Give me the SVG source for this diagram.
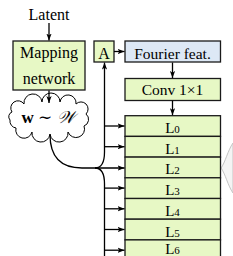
<svg xmlns="http://www.w3.org/2000/svg" width="233" height="256" viewBox="0 0 233 256">
<style>
.t{font-family:"Liberation Serif","Times New Roman",serif;fill:#000;text-anchor:middle}
.g{fill:#e7f8c5;stroke:#1a1a1a;stroke-width:1.3}
.b{fill:#dde8f5;stroke:#1a1a1a;stroke-width:1.3}
.c{fill:none;stroke:#000;stroke-width:1.3}
</style>
<defs>
<marker id="ah" viewBox="0 0 8 6" refX="8" refY="3" markerWidth="7" markerHeight="5.5" markerUnits="userSpaceOnUse" orient="auto">
<path d="M0,0 L8,3 L0,6 L2,3 z" fill="#000"/>
</marker>
</defs>
<rect width="233" height="256" fill="#fff"/>
<g id="brace">
<path d="M233,143 C228,150 225,163 221,168 C225,173 228,186 233,193 Z" fill="#f4f4f4" stroke="#c4c4c4" stroke-width="1"/>
</g>
<g id="latent"><text class="t" x="49" y="20" font-size="16">Latent</text></g>
<g id="mapping">
<rect class="g" x="13" y="41" width="72" height="49"/>
<text class="t" x="49" y="58" font-size="16">Mapping</text>
<text class="t" x="49" y="84" font-size="16">network</text>
</g>
<g id="cloud">
<path d="M12,112 A7,7 0 0 1 24,104 A9,9 0 0 1 42,102 A9,9 0 0 1 60,102 A8,8 0 0 1 76,104 A7,7 0 0 1 86,114 A7,7 0 0 1 84,126 A8,8 0 0 1 68,132 A9,9 0 0 1 50,134 A9,9 0 0 1 32,132 A8,8 0 0 1 16,128 A7,7 0 0 1 10,120 A5,5 0 0 1 12,112 Z" fill="#fff" stroke="#000" stroke-width="1"/>
<text x="48" y="123" font-size="17" font-family="'Liberation Serif','DejaVu Serif',serif" text-anchor="middle"><tspan font-weight="bold">w</tspan> ∼ <tspan font-style="italic">𝒲</tspan></text>
</g>
<g id="A">
<rect class="g" x="94" y="41" width="20" height="21"/>
<text class="t" x="104" y="59" font-size="16">A</text>
</g>
<g id="fourier">
<rect class="b" x="125" y="41" width="95.5" height="21"/>
<text class="t" x="172.5" y="59" font-size="15.5">Fourier feat.</text>
</g>
<g id="conv">
<rect class="g" x="125" y="78.5" width="95.5" height="22"/>
<text class="t" x="172.5" y="95" font-size="15.5">Conv 1×1</text>
</g>
<g id="layers">
<rect class="g" x="125" y="115.7" width="95.5" height="20.7"/>
<rect class="g" x="125" y="136.4" width="95.5" height="20.7"/>
<rect class="g" x="125" y="157.1" width="95.5" height="20.7"/>
<rect class="g" x="125" y="177.8" width="95.5" height="20.7"/>
<rect class="g" x="125" y="198.5" width="95.5" height="20.7"/>
<rect class="g" x="125" y="219.2" width="95.5" height="20.7"/>
<rect class="g" x="125" y="239.9" width="95.5" height="20.7"/>
<text class="t" x="172.5" y="133" font-size="15">L<tspan font-size="11">0</tspan></text>
<text class="t" x="172.5" y="153.7" font-size="15">L<tspan font-size="11">1</tspan></text>
<text class="t" x="172.5" y="174.4" font-size="15">L<tspan font-size="11">2</tspan></text>
<text class="t" x="172.5" y="195.1" font-size="15">L<tspan font-size="11">3</tspan></text>
<text class="t" x="172.5" y="215.8" font-size="15">L<tspan font-size="11">4</tspan></text>
<text class="t" x="172.5" y="236.5" font-size="15">L<tspan font-size="11">5</tspan></text>
<text class="t" x="172.5" y="253.5" font-size="15">L<tspan font-size="11">6</tspan></text>
</g>
<g id="connectors">
<path class="c" d="M49,23 L49,40.5" marker-end="url(#ah)"/>
<path class="c" d="M49,90.5 L49,103" marker-end="url(#ah)"/>
<path class="c" d="M114,51.5 L124.5,51.5" marker-end="url(#ah)"/>
<path class="c" d="M172.5,62.5 L172.5,78" marker-end="url(#ah)"/>
<path class="c" d="M172.5,100.5 L172.5,115.2" marker-end="url(#ah)"/>
<path class="c" d="M50,134.5 Q50,168 82,168 L124.5,168" marker-end="url(#ah)"/>
<path class="c" d="M95,168 Q104.5,168 104.5,152 L104.5,62.5" marker-end="url(#ah)"/>
<path class="c" d="M95,168 Q104.5,168 104.5,184 L104.5,256"/>
<path class="c" d="M104.5,126 L124.5,126" marker-end="url(#ah)"/>
<path class="c" d="M104.5,146.7 L124.5,146.7" marker-end="url(#ah)"/>
<path class="c" d="M104.5,188.1 L124.5,188.1" marker-end="url(#ah)"/>
<path class="c" d="M104.5,208.8 L124.5,208.8" marker-end="url(#ah)"/>
<path class="c" d="M104.5,229.5 L124.5,229.5" marker-end="url(#ah)"/>
<path class="c" d="M104.5,250.2 L124.5,250.2" marker-end="url(#ah)"/>
</g>
</svg>
